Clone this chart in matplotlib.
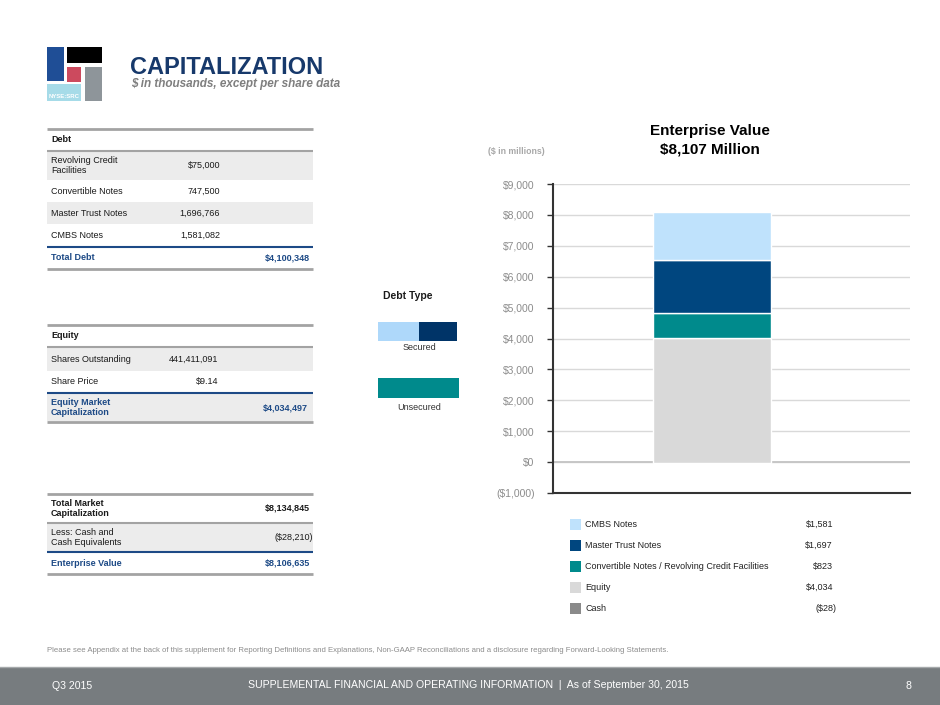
import matplotlib
matplotlib.use("Agg")
import matplotlib.pyplot as plt
from matplotlib.patches import Rectangle

# ---- data ($ in thousands for the tables, $ in millions for the chart) ----
debt_labels = ["Revolving Credit\nFacilities", "Convertible Notes", "Master Trust Notes", "CMBS Notes"]
debt_values = ["$75,000", "747,500", "1,696,766", "1,581,082"]
total_debt = "$4,100,348"

equity_labels = ["Shares Outstanding", "Share Price"]
equity_values = ["441,411,091", "$9.14"]
equity_cap = "$4,034,497"

total_market_cap = "$8,134,845"
less_cash = "($28,210)"
enterprise_value = "$8,106,635"

segments = ["Equity", "Convertible Notes / Revolving Credit Facilities", "Master Trust Notes", "CMBS Notes"]
segment_values = [4034, 823, 1697, 1581]
cash_value = -28
ev_title = "$8,107 Million"

seg_colors = ["#d9d9d9", "#008a8c", "#00467f", "#bfe2fc"]
cash_color = "#8a8a8a"

W, H = 940, 705
NAVY = "#1d4a86"
GRAY_LINE = "#a3a3a3"
SHADE = "#ececec"
TXT = "#1a1a1a"

plt.rcParams['font.family'] = ['Liberation Sans', 'DejaVu Sans']

fig = plt.figure(figsize=(9.4, 7.05), dpi=100)
page = fig.add_axes([0, 0, 1, 1])
page.set_xlim(0, W)
page.set_ylim(H, 0)
page.axis('off')

# ---- header / logo ----
page.add_patch(Rectangle((47, 47), 17, 34, color="#1f4e96", lw=0))
page.add_patch(Rectangle((67, 47), 35, 16, color="#000000", lw=0))
page.add_patch(Rectangle((67, 67), 14, 15, color="#cc4a5e", lw=0))
page.add_patch(Rectangle((85, 67), 17, 34, color="#8e959a", lw=0))
page.add_patch(Rectangle((47, 84), 34, 17, color="#a6dbe8", lw=0))
page.text(48.5, 96, "NYSE:SRC", fontsize=4.3, color="white", fontweight="bold", va="center")
page.text(130, 67, "CAPITALIZATION", fontsize=17, fontweight="bold", color="#17396b", va="center")
page.text(131, 84.5, "$ in thousands, except per share data", fontsize=8.5, fontweight="bold",
          style="italic", color="#7f7f7f", va="center")


def hline(y, color, lw):
    page.plot([47, 313], [y, y], color=color, lw=lw, solid_capstyle="butt")


def row(y0, y1, label, value="", shade=False, color=TXT, bold=False, vx=220):
    if shade:
        page.add_patch(Rectangle((47, y0), 266, y1 - y0, color=SHADE, lw=0))
    ym = (y0 + y1) / 2
    w = "bold" if bold else "normal"
    page.text(51, ym, label, fontsize=6.5, color=color, fontweight=w, va="center", linespacing=1.05)
    if value:
        page.text(vx, ym, value, fontsize=6.5, color=color, fontweight=w, va="center", ha="right")


# ---- debt table ----
hline(129, GRAY_LINE, 2)
row(129, 151, "Debt", bold=True)
hline(151, GRAY_LINE, 1.5)
y = 151
for i, (lab, val) in enumerate(zip(debt_labels, debt_values)):
    h = 29 if i == 0 else 22
    row(y, y + h, lab, val, shade=(i % 2 == 0))
    y += h
hline(247, NAVY, 1.5)
row(247, 269, "Total Debt", total_debt, color=NAVY, bold=True, vx=310)
hline(269, GRAY_LINE, 2)

# ---- equity table ----
hline(325, GRAY_LINE, 2)
row(325, 347, "Equity", bold=True)
hline(347, GRAY_LINE, 1.5)
y = 347
for i, (lab, val) in enumerate(zip(equity_labels, equity_values)):
    h = 24 if i == 0 else 21
    row(y, y + h, lab, val, shade=(i % 2 == 0), vx=218)
    y += h
hline(393, NAVY, 1.5)
row(394, 421, "Equity Market\nCapitalization", equity_cap, shade=True, color=NAVY, bold=True, vx=308)
hline(422, GRAY_LINE, 2)

# ---- total market table ----
hline(494, GRAY_LINE, 2)
row(494, 523, "Total Market\nCapitalization", total_market_cap, bold=True, vx=310)
hline(523, GRAY_LINE, 1.5)
row(524, 551, "Less: Cash and\nCash Equivalents", less_cash, shade=True, vx=313)
hline(552, NAVY, 1.5)
row(552, 574, "Enterprise Value", enterprise_value, color=NAVY, bold=True, vx=310)
hline(574, GRAY_LINE, 2)

# ---- debt type key ----
page.text(383, 296, "Debt Type", fontsize=7.5, fontweight="bold", color=TXT, va="center")
page.add_patch(Rectangle((378, 322), 41, 19, color="#aed8fa", lw=0))
page.add_patch(Rectangle((419, 322), 38, 19, color="#003468", lw=0))
page.text(419, 348, "Secured", fontsize=6.5, color="#333333", ha="center", va="center")
page.add_patch(Rectangle((378, 378), 81, 20, color=seg_colors[1], lw=0))
page.text(419, 407, "Unsecured", fontsize=6.5, color="#333333", ha="center", va="center")

# ---- chart ----
page.text(710, 131, "Enterprise Value", fontsize=11, fontweight="bold", color="black", ha="center", va="center")
page.text(710, 149, ev_title, fontsize=11, fontweight="bold", color="black", ha="center", va="center")
page.text(488, 152, "($ in millions)", fontsize=6.3, fontweight="bold", color="#a8a8a8", va="center")

ax = fig.add_axes([553 / W, 1 - 493 / H, (910 - 553) / W, (493 - 184) / H])
ax.set_xlim(0, 1)
ax.set_ylim(-1000, 9000)
ax.bar(0.445, cash_value, width=0.33, color=cash_color, lw=0)
bottom = cash_value
for v, c in zip(segment_values, seg_colors):
    ax.bar(0.445, v, width=0.33, bottom=bottom, color=c, edgecolor="white", lw=1, zorder=3)
    bottom += v

ticks = list(range(-1000, 9001, 1000))
ax.set_yticks(ticks)
ax.set_yticklabels([f"${t:,}" if t >= 0 else f"(${-t:,})" for t in ticks])
ax.set_xticks([])
ax.yaxis.grid(True, color="#d9d9d9", lw=1)
ax.axhline(0, color="#c4c4c4", lw=1.3, zorder=1)
ax.set_axisbelow(True)
for s in ["top", "right"]:
    ax.spines[s].set_visible(False)
for s in ["left", "bottom"]:
    ax.spines[s].set_color("#333333")
    ax.spines[s].set_linewidth(1.5)
ax.tick_params(axis="y", length=4.3, width=1, color="#333333", labelcolor="#8c8c8c",
               labelsize=7.5, pad=9)
ax.patch.set_alpha(0)

# ---- chart legend ----
legend_labels = segments[::-1] + ["Cash"]
legend_vals = segment_values[::-1] + [cash_value]
legend_cols = seg_colors[::-1] + [cash_color]
for i, (lab, val, col) in enumerate(zip(legend_labels, legend_vals, legend_cols)):
    yc = 524.3 + i * 21
    page.add_patch(Rectangle((570, yc - 5.5), 11, 11, color=col, lw=0))
    page.text(585, yc, lab, fontsize=6.5, color="#222222", va="center")
    txt = f"${val:,}" if val >= 0 else f"(${-val:,})"
    page.text(833 if val >= 0 else 837, yc, txt, fontsize=6.5, color="#222222", va="center", ha="right")

# ---- footer ----
page.text(47, 650, "Please see Appendix at the back of this supplement for Reporting Definitions and Explanations, "
          "Non-GAAP Reconciliations and a disclosure regarding Forward-Looking Statements.",
          fontsize=5.6, color="#8c8c8c", va="center")
page.add_patch(Rectangle((0, 667), W, 38, color="#777c7f", lw=0))
page.plot([0, W], [667, 667], color="#a5a9ab", lw=1)
foot = dict(fontsize=7.6, color="white", va="center")
page.text(52, 686, "Q3 2015", **foot)
page.text(468, 685, "SUPPLEMENTAL FINANCIAL AND OPERATING INFORMATION  |  As of September 30, 2015",
          ha="center", **foot)
page.text(906, 686, "8", **foot)

fig.savefig("out.png", dpi=100)
